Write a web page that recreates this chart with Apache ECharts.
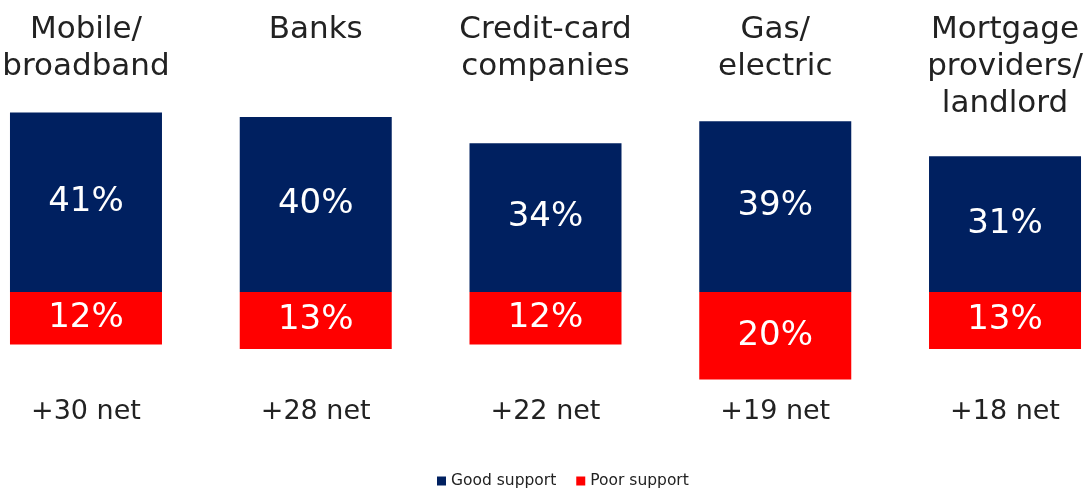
<!DOCTYPE html>
<html>
<head>
<meta charset="utf-8">
<script src="https://cdn.jsdelivr.net/npm/echarts@6/dist/echarts.min.js"></script>
<style>
  html, body { margin: 0; padding: 0; background: #fff; }
  #chart { width: 1083px; height: 492px; }
</style>
</head>
<body>
<div id="chart"></div>
<script>
const categories = ['Mobile/\nbroadband', 'Banks', 'Credit-card\ncompanies', 'Gas/\nelectric', 'Mortgage\nproviders/\nlandlord'];
const goodSupport = [41, 40, 34, 39, 31];
const poorSupport = [12, 13, 12, 20, 13];
const netLabels = ['+30 net', '+28 net', '+22 net', '+19 net', '+18 net'];

const FONT = 'DejaVu Sans';
const chart = echarts.init(document.getElementById('chart'));

const option = {
  backgroundColor: '#ffffff',
  textStyle: { fontFamily: FONT },
  grid: {
    left: -28.9,
    right: -36.9,
    top: 95,
    bottom: 90.5,
    containLabel: false,
    outerBoundsMode: 'none'
  },
  legend: {
    data: ['Good support', 'Poor support'],
    top: 468,
    left: 432,
    icon: 'rect',
    itemWidth: 9,
    itemHeight: 9,
    itemGap: 20,
    textStyle: { fontFamily: FONT, fontSize: 15.5, color: '#222' }
  },
  xAxis: [
    {
      type: 'category',
      position: 'top',
      data: categories,
      axisLine: { show: false },
      axisTick: { show: false },
      axisLabel: {
        margin: 84,
        verticalAlign: 'top',
        fontFamily: FONT,
        fontSize: 31,
        lineHeight: 37,
        color: '#222',
        interval: 0
      }
    },
    {
      type: 'category',
      position: 'bottom',
      data: netLabels,
      axisLine: { show: false },
      axisTick: { show: false },
      axisLabel: {
        margin: 10,
        verticalAlign: 'middle',
        fontFamily: FONT,
        fontSize: 27,
        color: '#222',
        interval: 0
      }
    }
  ],
  yAxis: {
    type: 'value',
    min: -25,
    max: 45,
    show: false,
    splitLine: { show: false }
  },
  series: [
    {
      name: 'Good support',
      type: 'bar',
      stack: 'total',
      xAxisIndex: 0,
      barWidth: 152,
      itemStyle: { color: '#002060' },
      label: {
        show: true,
        position: 'inside',
        color: '#fff',
        fontFamily: FONT,
        fontSize: 34,
        formatter: (p) => p.value + '%'
      },
      data: goodSupport
    },
    {
      name: 'Poor support',
      type: 'bar',
      stack: 'total',
      xAxisIndex: 0,
      barWidth: 152,
      itemStyle: { color: '#ff0000' },
      label: {
        show: true,
        position: 'inside',
        color: '#fff',
        fontFamily: FONT,
        fontSize: 34,
        formatter: (p) => Math.abs(p.value) + '%'
      },
      data: poorSupport.map((v) => -v)
    }
  ]
};

chart.setOption(option);
</script>
</body>
</html>
